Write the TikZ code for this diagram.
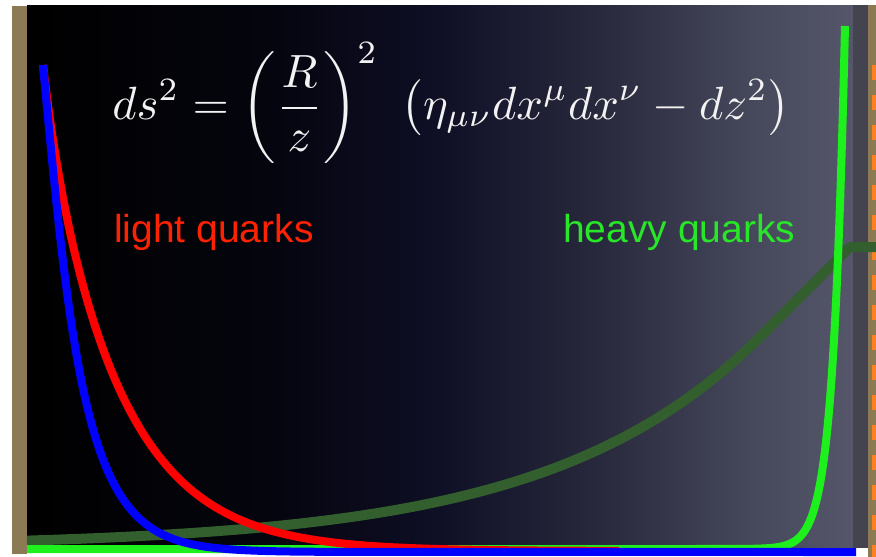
\documentclass[tikz,border=0pt]{standalone}
\usepackage{fontspec}
\newfontfamily\labelfont{Liberation Sans}
\usepackage{graphicx}
\definecolor{tanbar}{RGB}{140,122,85}
\definecolor{darkstrip}{RGB}{68,68,80}
\definecolor{dashorange}{RGB}{255,128,32}
\definecolor{curveblue}{RGB}{0,0,255}
\definecolor{curvered}{RGB}{255,0,0}
\definecolor{curvegreen}{RGB}{30,240,30}
\definecolor{curvedkgreen}{RGB}{50,95,45}
\definecolor{labelred}{RGB}{255,34,0}
\definecolor{labelgreen}{RGB}{40,230,40}
\definecolor{eqwhite}{RGB}{242,242,242}
\definecolor{bgA}{RGB}{5,5,15}
\definecolor{bgB}{RGB}{15,15,38}
\definecolor{bgC}{RGB}{42,42,62}
\definecolor{bgD}{RGB}{70,72,92}
\definecolor{bgE}{RGB}{85,86,105}
\pgfdeclarehorizontalshading{bgshade}{100bp}{color(0bp)=(black); color(25bp)=(black); color(40bp)=(bgA); color(50bp)=(bgB); color(60bp)=(bgC); color(69bp)=(bgD); color(75bp)=(bgE); color(100bp)=(bgE)}
\begin{document}
\begin{tikzpicture}[x=1pt,y=-1pt,
  curve/.style={line width=8pt},
  labeltext/.style={font=\labelfont\fontsize{39}{47}\selectfont, anchor=base west, inner sep=0pt}]
\useasboundingbox (0,0) rectangle (876,557);
\fill[white] (0,0) rectangle (876,557);
% frame pieces
\fill[tanbar] (12,6) rectangle (27,554);
\shade[shading=bgshade] (27,5) rectangle (853,550);
\fill[darkstrip] (853,5) rectangle (868,548);
\fill[tanbar] (868,5) rectangle (876,557);
\foreach \k in {0,...,16} {
  \fill[dashorange] (872,{65+30*\k}) rectangle (876,{80+30*\k});
}
% dark green curve
\coordinate (dgcorner) at (850,247);
\coordinate (dgend) at (876,247);
\draw[line width=10pt, curvedkgreen, line join=round] plot[domain=27:760, samples=120] (\x, {547-210*exp((\x-760)/210)}) -- (dgcorner) -- (dgend);
% bright green curve
\draw[curve, curvegreen] (27,549) -- (700,549) -- plot[domain=700:845, samples=150] (\x, {549-523*exp((\x-845)/12)});
% red curve
\draw[curve, curvered] plot[variable=\t, domain=0:8, samples=220] ({43+\t*(72-16*exp(-\t/0.6))}, {551-486*exp(-\t)});
% blue curve
\coordinate (blueend) at (856,552);
\draw[curve, curveblue] plot[variable=\t, domain=0:9, samples=220] ({43+\t*(36+10*exp(-\t/0.4))}, {552-487*exp(-\t)}) -- (blueend);
% texts
\node[text=eqwhite, inner sep=0pt] (eq) at (451,103) {\resizebox{677pt}{!}{$\displaystyle ds^2=\left(\frac{R}{z}\right)^2\ \left(\eta_{\mu\nu}dx^\mu dx^\nu-dz^2\right)$}};
\node[labeltext, text=labelred] (light) at (114,242) {light quarks};
\node[labeltext, text=labelgreen] (heavy) at (563,242) {heavy quarks};
\end{tikzpicture}
\end{document}
